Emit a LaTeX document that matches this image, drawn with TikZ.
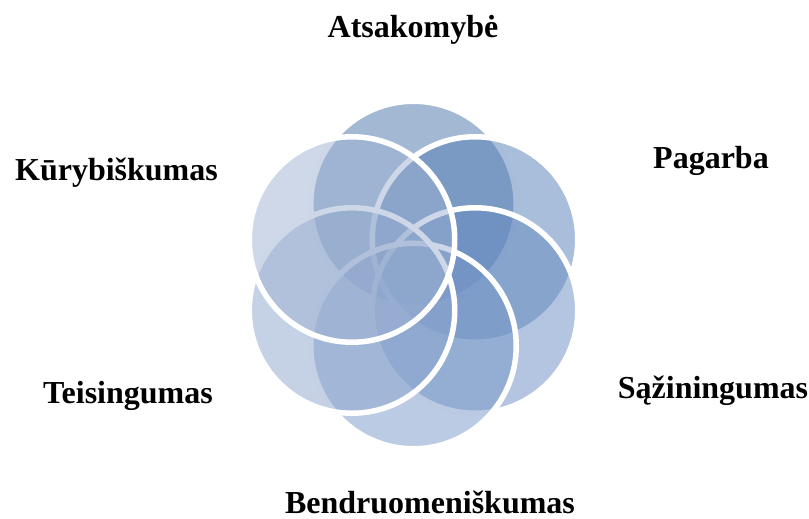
\documentclass[tikz,border=0pt]{standalone}
\usepackage{fontspec}
\setmainfont{Liberation Serif}
\definecolor{cA}{RGB}{71,113,167}
\definecolor{cB}{RGB}{83,125,183}
\definecolor{cC}{RGB}{103,139,193}
\definecolor{cD}{RGB}{119,151,199}
\definecolor{cE}{RGB}{139,165,205}
\definecolor{cF}{RGB}{157,177,209}
\tikzset{
  petal/.style={circle, inner sep=0pt, minimum size=205.5pt, draw=white, line width=5.5pt, fill=#1, fill opacity=0.5, draw opacity=1},
  lbl/.style={font=\fontsize{32}{38}\selectfont\bfseries, inner sep=0pt, anchor=base}
}
\begin{document}
\begin{tikzpicture}[x=1pt,y=-1pt]
\useasboundingbox (0,0) rectangle (809,519);
\node[petal=cA] (top) at (413.5,204) {};
\node[petal=cB] (ur) at (475,239.5) {};
\node[petal=cC] (lr) at (475,310.5) {};
\node[petal=cD] (bot) at (413.5,346) {};
\node[petal=cE] (ll) at (352,310.5) {};
\node[petal=cF] (ul) at (352,239.5) {};
\node[lbl] (t1) at (413,38) {Atsakomybė};
\node[lbl] (t2) at (711,168) {Pagarba};
\node[lbl] (t3) at (713,398) {Sąžiningumas};
\node[lbl] (t4) at (430,513) {Bendruomeniškumas};
\node[lbl] (t5) at (128,403) {Teisingumas};
\node[lbl] (t6) at (116.5,180) {Kūrybiškumas};
\end{tikzpicture}
\end{document}
